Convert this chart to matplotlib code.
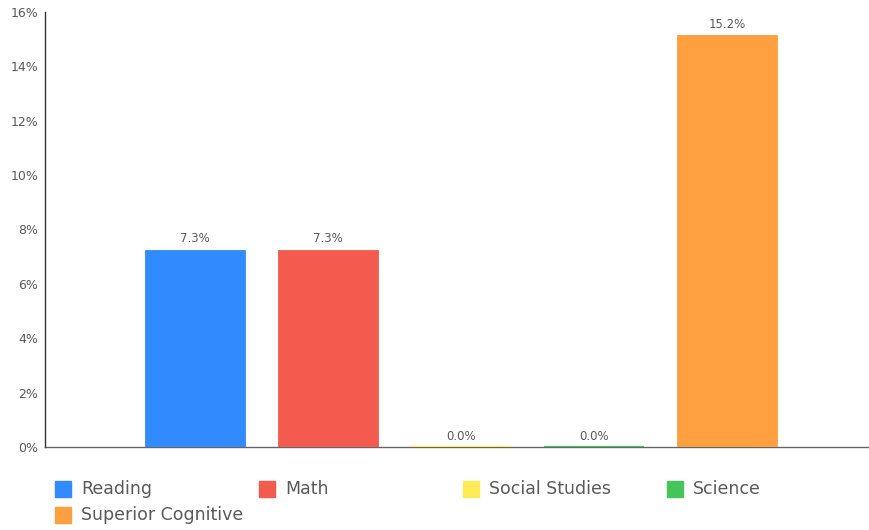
import matplotlib.pyplot as plt
from matplotlib.patches import Rectangle

# Chart data (bar heights; labels show one decimal)
categories = ['Reading', 'Math', 'Social Studies', 'Science', 'Superior Cognitive']
values = [7.26, 7.26, 0.0, 0.0, 15.16]
colors = ['#318AFE', '#F45B4F', '#FFEB55', '#45C45A', '#FFA040']
y_ticks = [0, 2, 4, 6, 8, 10, 12, 14, 16]

text_color = '#595959'
plt.rcParams['font.family'] = ['DejaVu Sans']

fig = plt.figure(figsize=(8.69, 5.30), dpi=100)
ax = fig.add_axes([45 / 869, 83 / 530, 823 / 869, 435 / 530])

x = list(range(len(categories)))
# zero-height bars still show as a thin coloured line on the baseline
widths = [0.6 if v else 1.6 for v in values]
bars = ax.bar(x, values, width=0.75, color=colors, edgecolor=colors,
              linewidth=widths, zorder=2)

for xi, v in zip(x, values):
    ax.annotate(f'{v:.1f}%', (xi, v), xytext=(0, 3), textcoords='offset points',
                ha='center', va='bottom', fontsize=8.5, color=text_color)

ax.set_xlim(-1.128, 5.06)
ax.set_ylim(0, 16)
ax.set_yticks(y_ticks)
ax.set_yticklabels([f'{t}%' for t in y_ticks])
ax.set_xticks([])
ax.tick_params(axis='y', length=0, pad=5, labelsize=9, labelcolor=text_color)

for s in ['top', 'right']:
    ax.spines[s].set_visible(False)
ax.spines['left'].set_color('#333333')
ax.spines['bottom'].set_color('#666666')
ax.spines['left'].set_linewidth(1)
ax.spines['bottom'].set_linewidth(1)
ax.spines['left'].set_zorder(3)
ax.spines['bottom'].set_zorder(1)

# Legend drawn by hand in 4 fixed-width columns
W, H = 869, 530
for i, (name, c) in enumerate(zip(categories, colors)):
    col, row = i % 4, i // 4
    lx = 55 + col * 204
    ly = 489 + row * 26
    fig.patches.append(Rectangle((lx / W, 1 - (ly + 8) / H), 16 / W, 16 / H,
                                 transform=fig.transFigure, color=c))
    fig.text((lx + 26) / W, 1 - ly / H, name, ha='left', va='center',
             fontsize=12.5, color=text_color)

fig.savefig('out.png', dpi=100)
